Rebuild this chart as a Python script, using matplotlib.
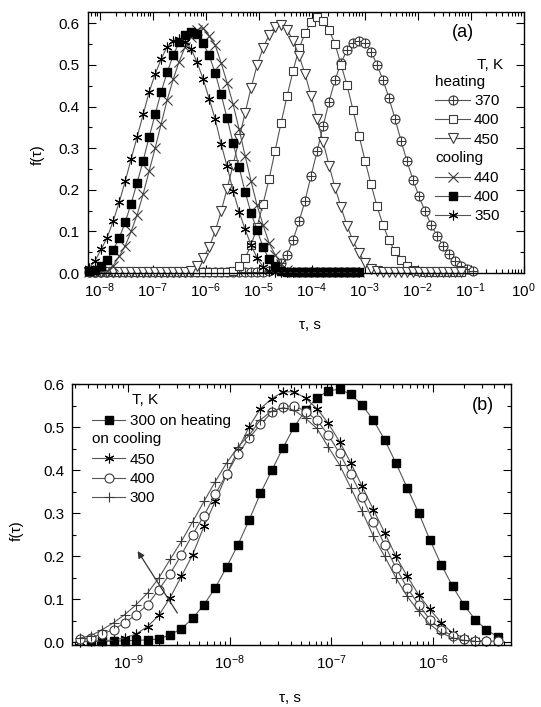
import numpy as np
import matplotlib
matplotlib.use('Agg')
import matplotlib.pyplot as plt
from matplotlib.lines import Line2D
from matplotlib.path import Path
from matplotlib.ticker import (LogLocator, FixedLocator, MultipleLocator,
                               FormatStrFormatter, NullFormatter, LogFormatterSciNotation)

plt.rcParams['font.family'] = ['Liberation Sans', 'DejaVu Sans']
plt.rcParams['mathtext.fontset'] = 'custom'
plt.rcParams['mathtext.rm'] = 'Liberation Sans'
plt.rcParams['mathtext.it'] = 'Liberation Sans:italic'
plt.rcParams['font.size'] = 11

nan = np.nan

# ---- panel (a): log10(tau) grid and f(tau) for each run ----
tau_a_log = [
    -8.198, -8.085, -7.972, -7.859, -7.745, -7.632, -7.519, -7.406, -7.293, -7.179,
    -7.066, -6.953, -6.840, -6.727, -6.613, -6.500, -6.387, -6.274, -6.161, -6.047,
    -5.934, -5.821, -5.708, -5.595, -5.481, -5.368, -5.255, -5.142, -5.029, -4.915,
    -4.802, -4.689, -4.576, -4.463, -4.349, -4.236, -4.123, -4.010, -3.897, -3.783,
    -3.670, -3.557, -3.444, -3.331, -3.217, -3.104, -2.991, -2.878, -2.765, -2.651,
    -2.538, -2.425, -2.312, -2.199, -2.085, -1.972, -1.859, -1.746, -1.633, -1.519,
    -1.406, -1.293, -1.180, -1.067, -0.954]

heat_370 = [
    0.002, 0.002, 0.002, 0.002, 0.002, 0.002, 0.002, 0.002, 0.002, 0.002,
    0.002, 0.002, 0.002, 0.002, 0.002, 0.002, 0.002, 0.002, 0.002, 0.002,
    0.002, 0.002, 0.002, 0.002, 0.002, 0.002, 0.002, 0.002, 0.002, 0.002,
    0.005, 0.012, 0.024, 0.044, 0.080, 0.124, 0.174, 0.234, 0.292, 0.353,
    0.412, 0.464, 0.505, 0.536, 0.553, 0.558, 0.552, 0.532, 0.500, 0.463,
    0.420, 0.370, 0.318, 0.268, 0.224, 0.184, 0.148, 0.116, 0.090, 0.066,
    0.046, 0.030, 0.018, 0.010, 0.004]

heat_400 = [
    0.002, 0.002, 0.002, 0.002, 0.002, 0.002, 0.002, 0.002, 0.002, 0.002,
    0.002, 0.002, 0.002, 0.002, 0.002, 0.002, 0.002, 0.002, 0.002, 0.002,
    0.002, 0.002, 0.002, 0.002, 0.006, 0.017, 0.036, 0.067, 0.111, 0.167,
    0.226, 0.294, 0.361, 0.425, 0.486, 0.540, 0.576, 0.604, 0.614, 0.606,
    0.584, 0.550, 0.500, 0.451, 0.391, 0.330, 0.270, 0.213, 0.160, 0.115,
    0.079, 0.052, 0.032, 0.018, 0.008, 0.004, 0.002, 0.002, 0.002, 0.002,
    0.002, 0.002, 0.002, nan, nan]

heat_450 = [
    0.002, 0.002, 0.002, 0.002, 0.002, 0.002, 0.002, 0.002, 0.002, 0.002,
    0.002, 0.002, 0.002, 0.002, 0.002, 0.002, 0.003, 0.006, 0.017, 0.036,
    0.062, 0.100, 0.148, 0.203, 0.260, 0.322, 0.385, 0.445, 0.499, 0.541,
    0.572, 0.592, 0.597, 0.585, 0.558, 0.522, 0.478, 0.425, 0.370, 0.315,
    0.258, 0.205, 0.158, 0.113, 0.077, 0.048, 0.025, 0.010, 0.004, 0.002,
    0.002, 0.002, 0.002, 0.002, 0.002, 0.002, 0.002, 0.002, 0.002, 0.002,
    0.002, 0.002, 0.002, nan, nan]

cool_440 = [
    0.002, 0.002, 0.003, 0.005, 0.018, 0.040, 0.065, 0.100, 0.140, 0.190,
    0.245, 0.300, 0.358, 0.415, 0.465, 0.508, 0.543, 0.568, 0.585, 0.588,
    0.570, 0.548, 0.505, 0.457, 0.405, 0.345, 0.282, 0.220, 0.163, 0.115,
    0.072, 0.044, 0.022, 0.008, 0.002, 0.002, 0.002, 0.002, 0.002, 0.002,
    0.002, 0.002, 0.002, 0.002, 0.002, 0.002, nan, nan, nan, nan,
    nan, nan, nan, nan, nan, nan, nan, nan, nan, nan,
    nan, nan, nan, nan, nan]

cool_400 = [
    0.004, 0.008, 0.017, 0.032, 0.056, 0.084, 0.122, 0.167, 0.217, 0.270,
    0.327, 0.381, 0.435, 0.482, 0.523, 0.554, 0.572, 0.580, 0.575, 0.552,
    0.523, 0.481, 0.429, 0.372, 0.312, 0.254, 0.195, 0.144, 0.103, 0.062,
    0.033, 0.016, 0.006, 0.002, 0.002, 0.002, 0.002, 0.002, 0.002, 0.002,
    0.002, 0.002, 0.002, 0.002, 0.002, 0.002, nan, nan, nan, nan,
    nan, nan, nan, nan, nan, nan, nan, nan, nan, nan,
    nan, nan, nan, nan, nan]

cool_350 = [
    0.012, 0.030, 0.057, 0.085, 0.125, 0.170, 0.220, 0.274, 0.327, 0.381,
    0.435, 0.478, 0.514, 0.544, 0.558, 0.563, 0.556, 0.538, 0.506, 0.466,
    0.419, 0.370, 0.310, 0.256, 0.197, 0.147, 0.105, 0.067, 0.036, 0.015,
    0.005, 0.002, 0.002, 0.002, 0.002, 0.002, 0.002, 0.002, 0.002, 0.002,
    0.002, 0.002, 0.002, 0.002, 0.002, 0.002, nan, nan, nan, nan,
    nan, nan, nan, nan, nan, nan, nan, nan, nan, nan,
    nan, nan, nan, nan, nan]

# ---- panel (b) ----
tau_b_log = [
    -9.475, -9.364, -9.253, -9.142, -9.031, -8.919, -8.808, -8.697, -8.586, -8.475,
    -8.364, -8.253, -8.142, -8.031, -7.919, -7.808, -7.697, -7.586, -7.475, -7.364,
    -7.253, -7.142, -7.031, -6.919, -6.808, -6.697, -6.586, -6.475, -6.364, -6.253,
    -6.142, -6.031, -5.919, -5.808, -5.697, -5.586, -5.475, -5.364]

b_heat_300 = [
    nan, 0.003, 0.003, 0.003, 0.004, 0.005, 0.006, 0.008, 0.018, 0.032,
    0.056, 0.088, 0.127, 0.175, 0.227, 0.285, 0.347, 0.400, 0.453, 0.502,
    0.540, 0.569, 0.585, 0.589, 0.577, 0.552, 0.517, 0.471, 0.417, 0.359,
    0.302, 0.239, 0.181, 0.131, 0.088, 0.053, 0.030, 0.013]

b_cool_450 = [
    0.002, 0.003, 0.004, 0.006, 0.010, 0.020, 0.037, 0.063, 0.104, 0.154,
    0.204, 0.270, 0.328, 0.390, 0.448, 0.502, 0.544, 0.567, 0.583, 0.583,
    0.568, 0.544, 0.510, 0.467, 0.417, 0.363, 0.309, 0.255, 0.200, 0.154,
    0.111, 0.077, 0.046, 0.022, 0.011, 0.005, 0.003, nan]

b_cool_400 = [
    0.007, 0.011, 0.020, 0.030, 0.046, 0.065, 0.088, 0.123, 0.160, 0.204,
    0.251, 0.295, 0.345, 0.391, 0.438, 0.476, 0.507, 0.535, 0.548, 0.551,
    0.537, 0.517, 0.483, 0.440, 0.391, 0.339, 0.281, 0.227, 0.173, 0.127,
    0.088, 0.053, 0.030, 0.015, 0.007, 0.003, 0.003, 0.003]

b_cool_300 = [
    0.010, 0.016, 0.030, 0.046, 0.065, 0.088, 0.115, 0.150, 0.193, 0.235,
    0.281, 0.328, 0.374, 0.417, 0.455, 0.482, 0.518, 0.538, 0.546, 0.540,
    0.521, 0.498, 0.455, 0.413, 0.359, 0.305, 0.247, 0.200, 0.150, 0.107,
    0.073, 0.042, 0.022, 0.011, 0.005, 0.003, nan, nan]

# decades that carry a tick label
decades_a = [-8, -7, -6, -5, -4, -3, -2, -1, 0]
decades_b = [-9, -8, -7, -6]

# arrow in panel (b): from (log tau, f) to (log tau, f)
arrow_from = (-8.50, 0.063)
arrow_to = (-8.92, 0.218)

# circle with a plus inside
oplus = Path.make_compound_path(
    Path.unit_circle(),
    Path([[-1, 0], [1, 0]], [Path.MOVETO, Path.LINETO]),
    Path([[0, -1], [0, 1]], [Path.MOVETO, Path.LINETO]))

line_kw = dict(color='#555555', lw=0.8)
gray = '#3a3a3a'

series_a = [
    (heat_370, dict(marker=oplus, ms=6.5, mfc='white', mec=gray, mew=0.8), '370'),
    (heat_400, dict(marker='s', ms=5.5, mfc='white', mec=gray, mew=0.8), '400'),
    (heat_450, dict(marker='v', ms=7, mfc='white', mec=gray, mew=0.8), '450'),
    (cool_440, dict(marker='x', ms=6.5, mec=gray, mew=0.8), '440'),
    (cool_400, dict(marker='s', ms=5.5, mfc='black', mec='black'), '400'),
    (cool_350, dict(marker=(6, 2, 0), ms=7, mec='black', mew=0.8), '350'),
]

series_b = [
    (b_heat_300, dict(marker='s', ms=5.5, mfc='black', mec='black'), '300 on heating'),
    (b_cool_450, dict(marker=(6, 2, 0), ms=7, mec='black', mew=0.8), '450'),
    (b_cool_400, dict(marker='o', ms=6.5, mfc='white', mec=gray, mew=0.8), '400'),
    (b_cool_300, dict(marker='+', ms=7, mec=gray, mew=0.8), '300'),
]


def style_axis(ax, decades):
    for s in ax.spines.values():
        s.set_linewidth(1.0)
    ax.set_xscale('log')
    ax.xaxis.set_major_locator(FixedLocator([10.0 ** d for d in decades]))
    ax.xaxis.set_major_formatter(LogFormatterSciNotation())
    ax.xaxis.set_minor_locator(LogLocator(base=10, subs=np.arange(2, 10), numticks=30))
    ax.xaxis.set_minor_formatter(NullFormatter())
    ax.yaxis.set_major_locator(MultipleLocator(0.1))
    ax.yaxis.set_minor_locator(MultipleLocator(0.05))
    ax.yaxis.set_major_formatter(FormatStrFormatter('%.1f'))
    ax.tick_params(which='both', direction='in', top=True, right=True, width=0.8, labelsize=11)
    ax.tick_params(which='major', length=6, pad=6)
    ax.tick_params(which='minor', length=3)


fig = plt.figure(figsize=(5.41, 7.07), dpi=100)
ax_a = fig.add_axes([0.1627, 0.6132, 0.8050, 0.3698])
ax_b = fig.add_axes([0.1340, 0.0870, 0.8105, 0.3692])

# panel (a)
tau_a = 10 ** np.array(tau_a_log)
handles_a = []
for vals, mk, lab in series_a:
    ax_a.plot(tau_a, vals, clip_on=False, **line_kw, **mk)
    handles_a.append(Line2D([], [], **line_kw, **mk))
blank = Line2D([], [], linestyle='none')
ax_a.legend(handles_a[:3] + [blank] + handles_a[3:],
            [s[2] for s in series_a[:3]] + [' '] + [s[2] for s in series_a[3:]],
            loc='upper left', bbox_to_anchor=(0.797, 0.686), frameon=False,
            borderpad=0, borderaxespad=0, handlelength=2.3, handletextpad=0.25,
            labelspacing=0.34, numpoints=1, fontsize=11)
ax_a.text(0.953, 0.797, 'T, K', transform=ax_a.transAxes, ha='right', va='center')
ax_a.text(0.797, 0.734, 'heating', transform=ax_a.transAxes, ha='left', va='center')
ax_a.text(0.797, 0.441, 'cooling', transform=ax_a.transAxes, ha='left', va='center')
ax_a.text(0.861, 0.921, '(a)', transform=ax_a.transAxes, ha='center', va='center', fontsize=13)
style_axis(ax_a, decades_a)
ax_a.set_xlim(10 ** -8.22, 10 ** 0.0)
ax_a.set_ylim(-0.001, 0.627)
ax_a.set_ylabel('f(τ)', fontsize=11)
ax_a.set_xlabel('τ, s', fontsize=11)
ax_a.yaxis.set_label_coords(-0.099, 0.453)
ax_a.xaxis.set_label_coords(0.51, -0.170)

# panel (b)
tau_b = 10 ** np.array(tau_b_log)
handles_b = []
for vals, mk, lab in series_b:
    ax_b.plot(tau_b, vals, clip_on=False, **line_kw, **mk)
    handles_b.append(Line2D([], [], **line_kw, **mk))
ax_b.legend(handles_b[:1] + [blank] + handles_b[1:],
            [series_b[0][2], ' '] + [s[2] for s in series_b[1:]],
            loc='upper left', bbox_to_anchor=(0.0438, 0.887), frameon=False,
            borderpad=0, borderaxespad=0, handlelength=2.2, handletextpad=0.3,
            labelspacing=0.35, numpoints=1, fontsize=11)
ax_b.text(0.135, 0.9406, 'T, K', transform=ax_b.transAxes, ha='left', va='center')
ax_b.text(0.0438, 0.790, 'on cooling', transform=ax_b.transAxes, ha='left', va='center')
ax_b.text(0.935, 0.921, '(b)', transform=ax_b.transAxes, ha='center', va='center', fontsize=13)
ax_b.annotate('', xy=(10 ** arrow_to[0], arrow_to[1]),
              xytext=(10 ** arrow_from[0], arrow_from[1]),
              arrowprops=dict(arrowstyle='-|>', color='#333333', lw=0.9, mutation_scale=10))
style_axis(ax_b, decades_b)
ax_b.set_xlim(10 ** -9.546, 10 ** -5.233)
ax_b.set_ylim(-0.007, 0.6)
ax_b.set_ylabel('f(τ)', fontsize=11)
ax_b.set_xlabel('τ, s', fontsize=11)
ax_b.yaxis.set_label_coords(-0.111, 0.44)
ax_b.xaxis.set_label_coords(0.495, -0.174)

fig.savefig('out.png', dpi=100)
